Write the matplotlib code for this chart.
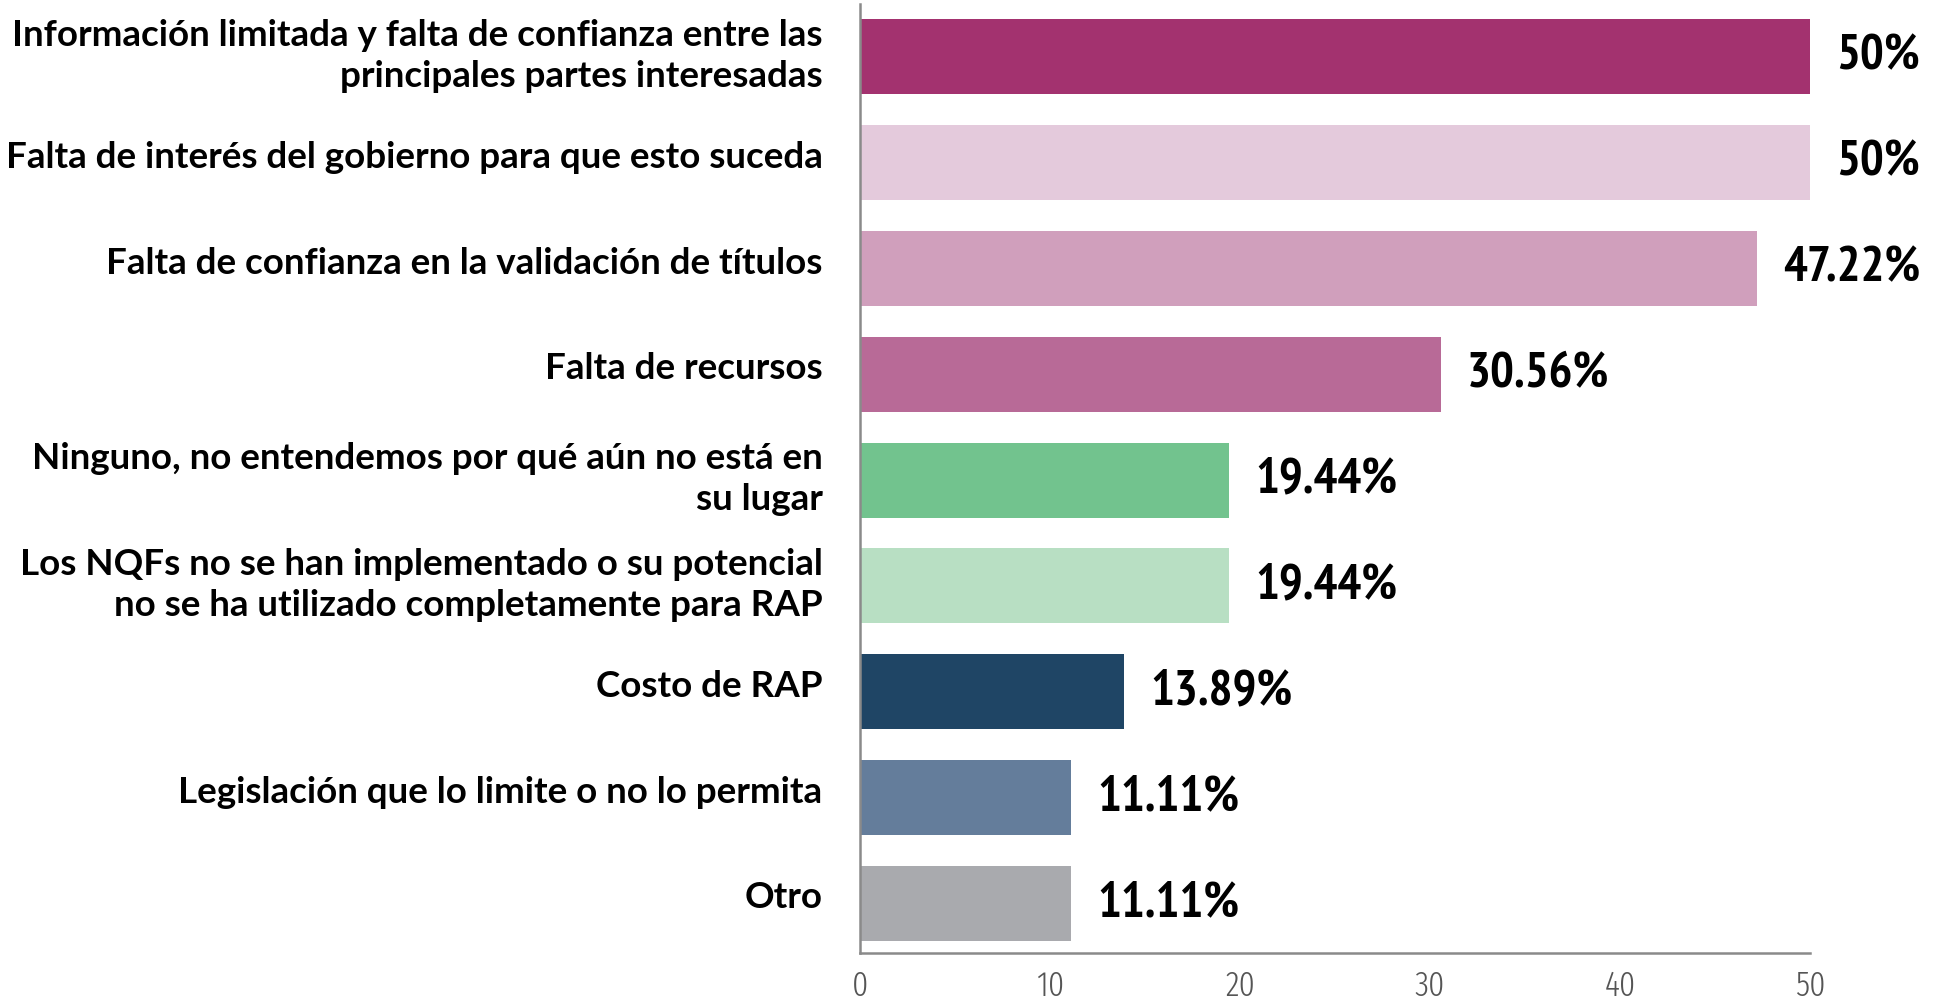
import matplotlib as mpl
import matplotlib.pyplot as plt
import matplotlib.transforms as mtransforms
import numpy as np

mpl.rcParams['font.family'] = ['Lato', 'DejaVu Sans']
NARROW = ['PT Sans Narrow', 'Roboto Condensed', 'DejaVu Sans']
TICKFONT = ['Fira Sans Extra Condensed', 'PT Sans Narrow', 'DejaVu Sans']

CATEGORIES = [
    'Información limitada y falta de confianza entre las\nprincipales partes interesadas',
    'Falta de interés del gobierno para que esto suceda',
    'Falta de confianza en la validación de títulos',
    'Falta de recursos',
    'Ninguno, no entendemos por qué aún no está en\nsu lugar',
    'Los NQFs no se han implementado o su potencial\nno se ha utilizado completamente para RAP',
    'Costo de RAP',
    'Legislación que lo limite o no lo permita',
    'Otro',
]
VALUES = [50, 50, 47.22, 30.56, 19.44, 19.44, 13.89, 11.11, 11.11]
VALUE_LABELS = ['50%', '50%', '47.22%', '30.56%', '19.44%', '19.44%',
                '13.89%', '11.11%', '11.11%']
COLORS = ['#A3326F', '#E4CADC', '#D09FBC', '#B86A97', '#72C38E',
          '#B8DFC3', '#1F4565', '#647D9B', '#A9AAAE']
XTICKS = [0, 10, 20, 30, 40, 50]

fig = plt.figure(figsize=(19.34, 10.05), dpi=100)
ax = fig.add_axes([0.4447, 0.0517, 0.4912, 0.9443])

y = np.arange(len(CATEGORIES))
ax.barh(y, VALUES, height=0.71, color=COLORS)

for yi, v, lab in zip(y, VALUES, VALUE_LABELS):
    ax.annotate(lab, (v, yi), xytext=(19, 0), textcoords='offset points',
                ha='left', va='center', fontsize=36, fontweight='bold',
                family=NARROW, color='black', annotation_clip=False)

ax.set_xlim(0, 50)
ax.set_ylim(len(CATEGORIES) - 0.53, -0.5)
ax.set_yticks(y)
ax.set_yticklabels(CATEGORIES, fontsize=26.5, fontweight='bold',
                   linespacing=1.3)
ax.set_xticks(XTICKS)
ax.set_xticklabels([str(t) for t in XTICKS], fontsize=25, fontweight=300,
                   family=TICKFONT, color='#555555')
ax.tick_params(axis='y', length=0, pad=27)
ax.tick_params(axis='x', length=0, pad=12)

# nudge category labels up a little, like the original
shift = mtransforms.ScaledTranslation(0, 6 / 72, fig.dpi_scale_trans)
for lbl in ax.get_yticklabels():
    lbl.set_transform(lbl.get_transform() + shift)

for side in ['top', 'right']:
    ax.spines[side].set_visible(False)
for side in ['left', 'bottom']:
    ax.spines[side].set_color('#8a8a8a')
    ax.spines[side].set_linewidth(1.8)

fig.savefig('out.png', dpi=100)
